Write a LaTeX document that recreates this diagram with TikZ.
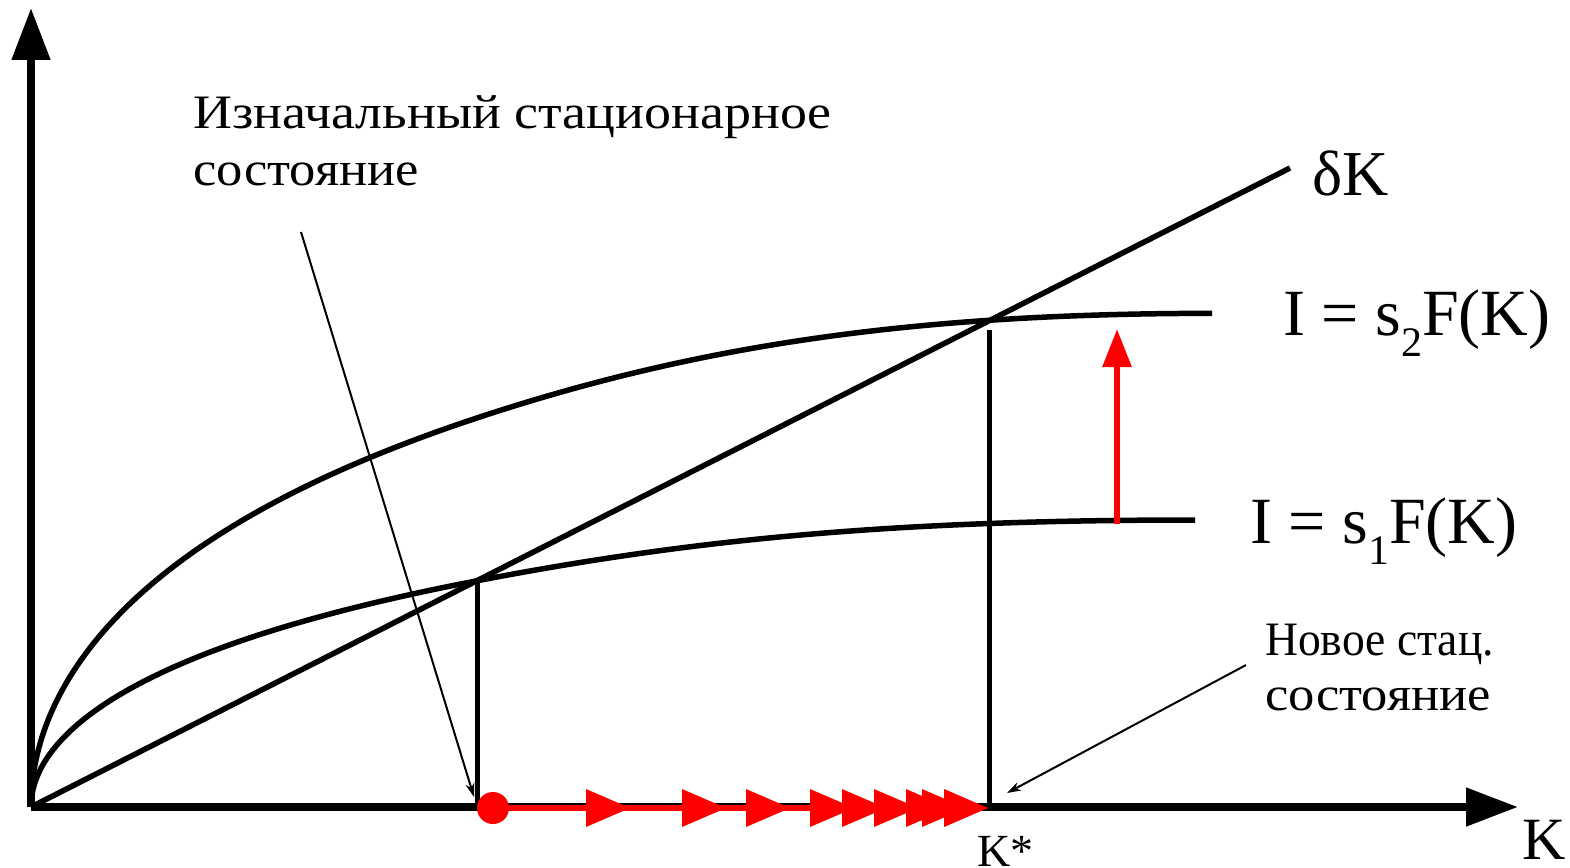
\documentclass[tikz,border=0pt]{standalone}
\usepackage{fontspec}
\setmainfont{Liberation Serif}
\usetikzlibrary{arrows.meta}
\newcommand{\prodcurve}[1]{plot[domain=0:21.095, samples=90, variable=\t] ({\t*\t}, {-460.7*\t/sqrt(\t*\t+1404)}) .. controls (665,-268.4) and (#1-300,-287) .. (#1,-287)}
\begin{document}
\begin{tikzpicture}[x=1pt,y=-1pt,
  axis/.style={line width=8pt, -{Triangle[length=52pt,width=37pt]}},
  curve/.style={line width=5.5pt, line join=round},
  guide/.style={line width=5pt},
  pointer/.style={line width=2pt, -{Stealth[length=14pt,width=9pt]}},
  redline/.style={line width=6pt, red},
  redarrow/.style={line width=6pt, red, -{Triangle[length=38pt,width=28pt]}},
  redtri/.style={fill=red, draw=none},
  lbl/.style={inner sep=0pt, anchor=base west, align=left},
]
\useasboundingbox (0,0) rectangle (1570,867);
\coordinate (O) at (31,807);
\coordinate (ytop) at (31,8);
\coordinate (xend) at (1518,807);
\coordinate (dK) at (1290,168);
\coordinate (E1) at (477,581);
\coordinate (E1b) at (477,809);
\coordinate (E2) at (989,330);
\coordinate (E2b) at (989,809);
\coordinate (up0) at (1117,524);
\coordinate (up1) at (1117,329);
\coordinate (dot) at (493,808);
\coordinate (redend) at (975,808);

% axes
\draw[axis] (O) -- (ytop);
\draw[axis] (O) -- (xend);

% curves
\begin{scope}[shift={(31,807)}]
  \draw[curve] \prodcurve{1164};
\end{scope}
\begin{scope}[shift={(31,807)}, yscale=1.72]
  \draw[curve] \prodcurve{1181};
\end{scope}
\draw[curve] (O) -- (dK);

% guides
\draw[guide] (E1) -- (E1b);
\draw[guide] (E2) -- (E2b);

% red vertical arrow
\draw[redarrow] (up0) -- (up1);

% red path along axis
\draw[redline] (dot) -- (redend);
\fill[red] (dot) circle (16);
\foreach \b/\t in {586/630, 682/726, 746/790, 810/854, 842/886, 874/918, 906/950, 922/966, 944/988}{
  \fill[redtri] (\b,789) -- (\t,808) -- (\b,827) -- cycle;
}

% labels
\node[lbl] (t1) at (193,128) {\fontsize{48}{57}\selectfont\scalebox{1.124}[1]{Изначальный стационарное}};
\node[lbl] (t1b) at (193,185) {\fontsize{48}{57}\selectfont\scalebox{1.095}[1]{состояние}};
\coordinate (p1s) at (301,232);
\coordinate (p1e) at (474,797);
\draw[pointer] (p1s) -- (p1e);

\node[lbl] (t2) at (1265,655) {\fontsize{48}{55}\selectfont\scalebox{0.95}[1]{Новое стац.}};
\node[lbl] (t2b) at (1265,710) {\fontsize{48}{55}\selectfont\scalebox{1.095}[1]{состояние}};
\coordinate (p2s) at (1246,665);
\coordinate (p2e) at (1007,793);
\draw[pointer] (p2s) -- (p2e);

\node[lbl] (ls2) at (1283,335) {\fontsize{66}{70}\selectfont I = s\raisebox{-0.33em}{\fontsize{42}{42}\selectfont 2}F(K)};
\node[lbl] (ls1) at (1250,543) {\fontsize{66}{70}\selectfont I = s\raisebox{-0.33em}{\fontsize{42}{42}\selectfont 1}F(K)};
\node[lbl] (ldk) at (1312,195) {\fontsize{64}{64}\selectfont δK};
\node[lbl] (lk) at (1522,859) {\fontsize{60}{60}\selectfont K};
\node[lbl] (lks) at (977,866) {\fontsize{46}{46}\selectfont K*};
\end{tikzpicture}
\end{document}
